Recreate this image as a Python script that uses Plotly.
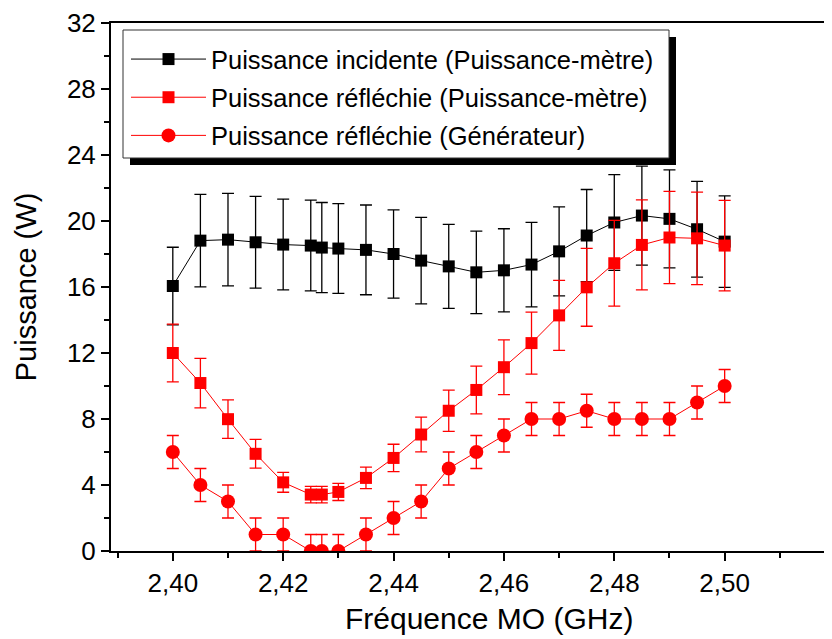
import plotly.graph_objects as go

freq = [2.40, 2.405, 2.41, 2.415, 2.42, 2.425, 2.427, 2.43, 2.435, 2.44, 2.445,
        2.45, 2.455, 2.46, 2.465, 2.47, 2.475, 2.48, 2.485, 2.49, 2.495, 2.50]

inc_pm = [16.06, 18.81, 18.87, 18.71, 18.57, 18.51, 18.39, 18.33, 18.25, 18.0, 17.6,
          17.25, 16.89, 17.01, 17.36, 18.16, 19.12, 19.91, 20.33, 20.13, 19.5, 18.75]
inc_pm_err = [2.35, 2.8, 2.8, 2.78, 2.75, 2.75, 2.73, 2.72, 2.72, 2.68, 2.62,
              2.55, 2.5, 2.52, 2.56, 2.7, 2.79, 2.9, 3.0, 2.97, 2.9, 2.77]

ref_pm = [12.0, 10.18, 7.99, 5.89, 4.16, 3.42, 3.42, 3.58, 4.43, 5.64, 7.06,
          8.5, 9.76, 11.14, 12.6, 14.28, 15.98, 17.44, 18.55, 19.0, 18.95, 18.51]
ref_pm_err = [1.75, 1.5, 1.17, 0.87, 0.6, 0.5, 0.5, 0.52, 0.65, 0.83, 1.05,
              1.25, 1.45, 1.66, 1.88, 2.12, 2.36, 2.6, 2.73, 2.8, 2.8, 2.74]

ref_gen = [6, 4, 3, 1, 1, 0, 0, 0, 1, 2, 3, 5, 6, 7, 8, 8, 8.5, 8, 8, 8, 9, 10]
ref_gen_err = [1] * 22

x_ticks = [2.40, 2.42, 2.44, 2.46, 2.48, 2.50]
x_ticklabels = ["2,40", "2,42", "2,44", "2,46", "2,48", "2,50"]

names = ["Puissance incidente (Puissance-mètre)",
         "Puissance réfléchie (Puissance-mètre)",
         "Puissance réfléchie (Générateur)"]
x_title = "Fréquence MO (GHz)"
y_title = "Puissance (W)"

FONT = "Arial, Liberation Sans, sans-serif"

fig = go.Figure()
series = [
    (inc_pm, inc_pm_err, "black", "square", 12),
    (ref_pm, ref_pm_err, "red", "square", 12),
    (ref_gen, ref_gen_err, "red", "circle", 14),
]
for i, ((ys, es, col, sym, sz), nm) in enumerate(zip(series, names)):
    fig.add_trace(go.Scatter(
        x=freq, y=ys, name=nm, mode="lines+markers", legendgroup=f"g{i}",
        line=dict(color=col, width=1),
        marker=dict(symbol=sym, size=sz, color=col),
        error_y=dict(type="data", array=es, color=col, thickness=1.3, width=6),
    ))

W, H = 832, 639
L, R, T, B = 103, 0, 15, 96
pw, ph = W - L - R, H - T - B

def px(x):
    return (x - L) / pw

def py(y):
    return 1 - (y - T) / ph

# legend shadow and box
fig.add_shape(type="rect", xref="paper", yref="paper",
              x0=px(122), x1=px(668), y0=py(157), y1=py(29),
              fillcolor="black", line=dict(width=0), layer="above")
fig.add_shape(type="rect", xref="paper", yref="paper",
              x0=px(115), x1=px(661), y0=py(150), y1=py(22),
              fillcolor="white", line=dict(color="#333333", width=1), layer="above")

# x-axis title (centred on the full, partly cropped axis)
fig.add_annotation(text=x_title, xref="paper", yref="paper",
                   x=px(481), y=py(610), xanchor="center", yanchor="middle",
                   showarrow=False, font=dict(size=30, family=FONT, color="black"))

fig.update_layout(
    width=W, height=H,
    margin=dict(l=L, r=R, t=T, b=B, autoexpand=False),
    paper_bgcolor="white", plot_bgcolor="white",
    font=dict(family=FONT, color="black", size=26),
    showlegend=True,
    legend=dict(x=px(118), y=py(28), xanchor="left", yanchor="top",
                bgcolor="rgba(0,0,0,0)", borderwidth=0, itemwidth=75,
                font=dict(size=25.5, family=FONT), tracegroupgap=2),
    xaxis=dict(range=[2.3888, 2.5209], tickmode="array", tickvals=x_ticks,
               ticktext=x_ticklabels,
               showgrid=False, zeroline=False, showline=True, linecolor="black",
               linewidth=2, mirror=True, ticks="outside", ticklen=8, tickwidth=2,
               tickcolor="black", minor=dict(tickmode="linear", tick0=2.39, dtick=0.01,
                                               ticks="outside", ticklen=5,
                                               tickwidth=2, tickcolor="black"),
               automargin=False,
               tickfont=dict(size=26, family=FONT)),
    yaxis=dict(range=[0, 32], tick0=0, dtick=4,
               showgrid=False, zeroline=False, showline=True, linecolor="black",
               linewidth=2, ticks="outside", ticklen=8, tickwidth=2,
               tickcolor="black", minor=dict(dtick=2, ticks="outside", ticklen=5,
                                               tickwidth=2, tickcolor="black"),
               ticklabeloverflow="allow", automargin=False,
               title=dict(text=y_title, font=dict(size=29, family=FONT),
                          standoff=22),
               tickfont=dict(size=26, family=FONT)),
)

fig.write_html("out.html")
